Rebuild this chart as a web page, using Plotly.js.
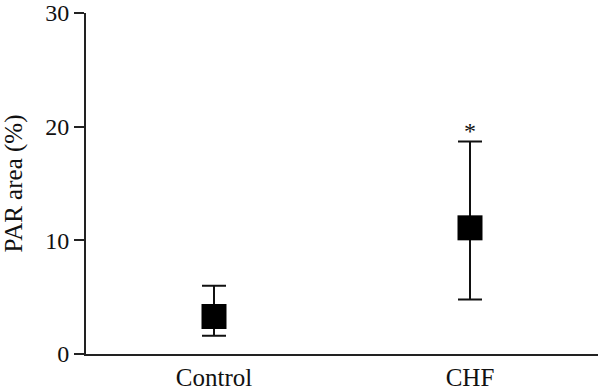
<!DOCTYPE html>
<html>
<head>
<meta charset="utf-8">
<script src="https://cdn.plot.ly/plotly-3.0.1.min.js"></script>
<style>html,body{margin:0;padding:0;background:#fff;}#chart{width:600px;height:392px;}</style>
</head>
<body>
<div id="chart"></div>
<script>
var categories = ['Control', 'CHF'];
var means = [3.3, 11.1];
var errPlus = [2.7, 7.6];
var errMinus = [1.7, 6.3];
var yTicks = [0, 10, 20, 30];
var sigLabels = ['', '*'];

var fontFam = '"Liberation Serif", "DejaVu Serif", serif';
var trace = {
  type: 'scatter',
  mode: 'markers',
  x: categories,
  y: means,
  marker: {symbol: 'square', size: 25, color: '#000'},
  error_y: {type: 'data', symmetric: false, array: errPlus, arrayminus: errMinus,
            color: '#111', thickness: 2, width: 12},
  hoverinfo: 'none'
};
var annotations = [];
for (var i = 0; i < categories.length; i++) {
  if (sigLabels[i]) {
    annotations.push({x: categories[i], y: means[i] + errPlus[i], text: sigLabels[i],
      showarrow: false, yanchor: 'bottom', yshift: -5,
      font: {family: fontFam, size: 24, color: '#111'}});
  }
}
var layout = {
  width: 600, height: 392,
  margin: {l: 86, r: 2, t: 13, b: 38},
  paper_bgcolor: '#fff', plot_bgcolor: '#fff',
  showlegend: false,
  xaxis: {type: 'category', range: [-0.5, 1.5], showline: true, linecolor: '#222', linewidth: 2,
          ticks: '', showgrid: false, zeroline: false,
          tickfont: {family: fontFam, size: 25, color: '#111'}},
  yaxis: {range: [0, 30], tickvals: yTicks, ticks: 'outside', ticklen: 10, tickwidth: 2,
          tickcolor: '#222', showline: true, linecolor: '#222', linewidth: 2,
          showgrid: false, zeroline: false,
          tickfont: {family: fontFam, size: 24, color: '#111'},
          title: {text: 'PAR area (%)', standoff: 15, font: {family: fontFam, size: 25, color: '#111'}}},
  annotations: annotations
};
Plotly.newPlot('chart', [trace], layout, {displayModeBar: false, staticPlot: true});
</script>
</body>
</html>
